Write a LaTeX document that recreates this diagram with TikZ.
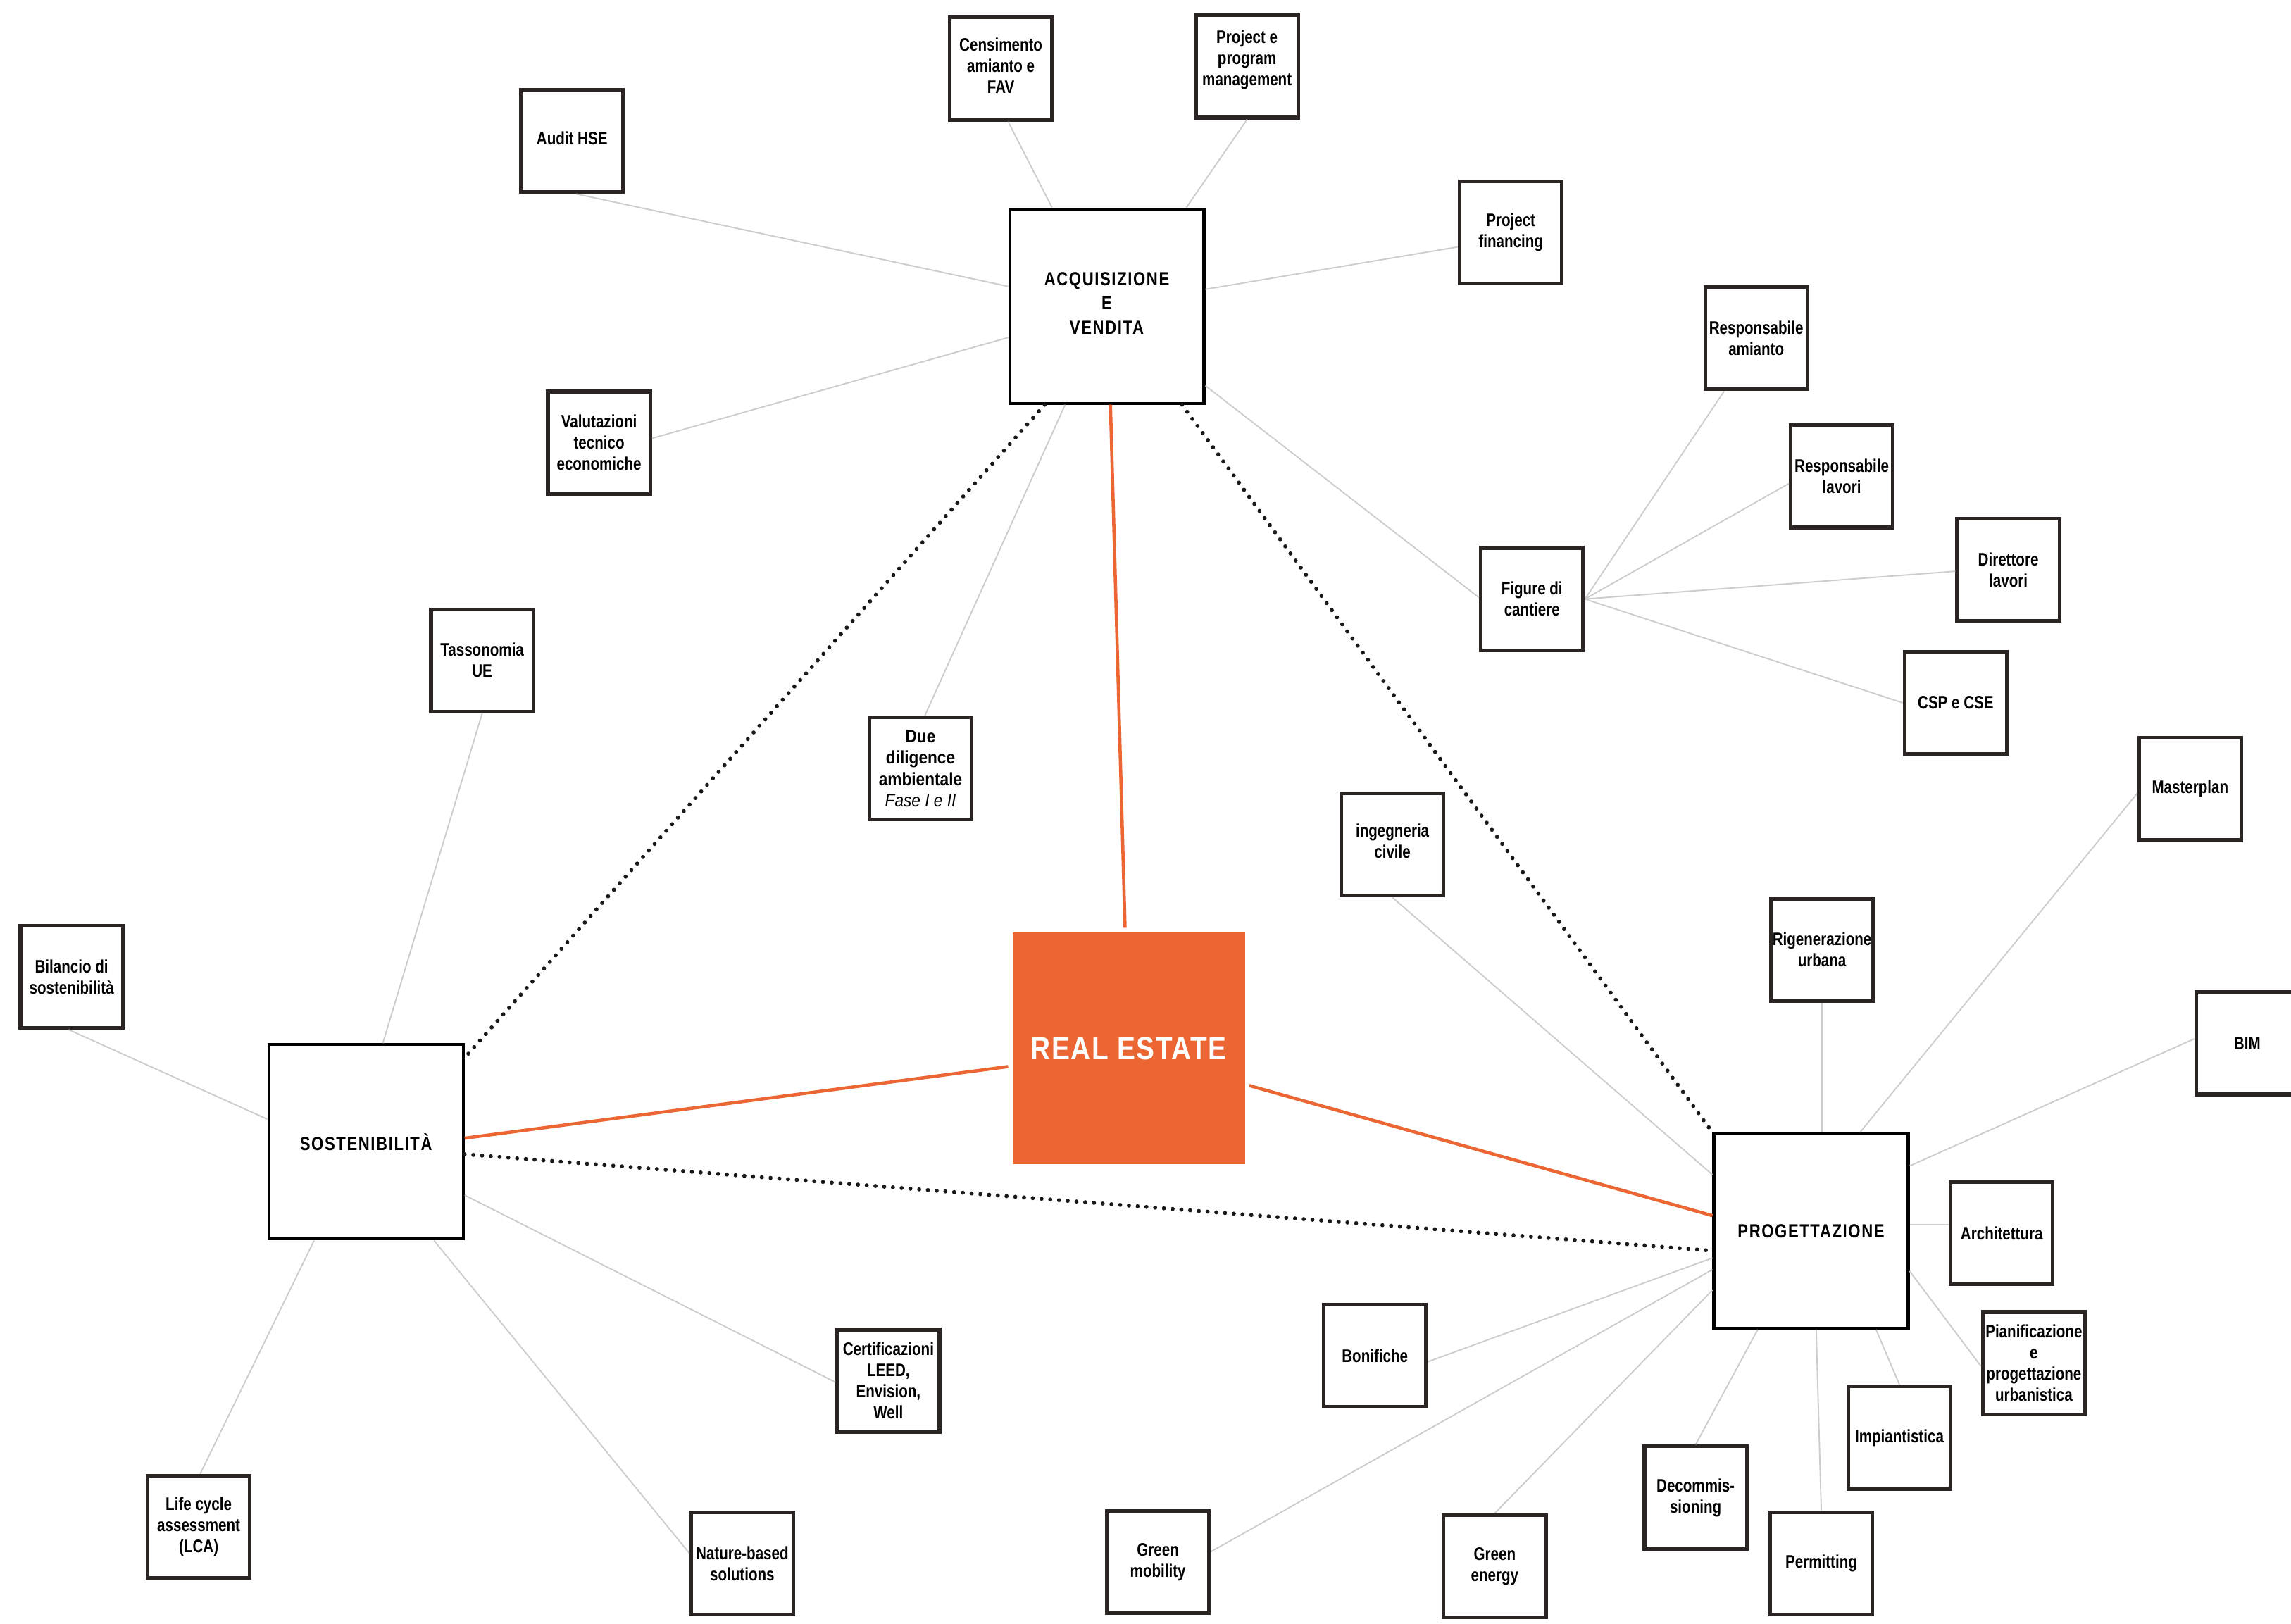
\documentclass[tikz,border=0pt]{standalone}
\usepackage{fontspec}
\newfontfamily\boxfont[FakeStretch=0.8]{Liberation Sans}
\newfontfamily\widefont[FakeStretch=0.88]{Liberation Sans}
\newfontfamily\mainfont[FakeStretch=0.82,LetterSpace=6]{Liberation Sans}
\newfontfamily\refont[FakeStretch=0.85,LetterSpace=3.5]{Liberation Sans}
\definecolor{reorange}{HTML}{EB6633}
\definecolor{boxline}{HTML}{2A2522}
\definecolor{linkgray}{HTML}{CCCCCC}
\tikzset{
  small/.style={draw=boxline, line width=2.5pt, fill=white, minimum width=70pt, minimum height=70pt, inner sep=0pt, align=center, font=\boxfont\bfseries\fontsize{12.4}{14.5}\selectfont},
  big/.style={draw=black, line width=2pt, fill=white, minimum width=133pt, minimum height=133pt, inner sep=0pt, align=center, font=\mainfont\bfseries\fontsize{13}{16.5}\selectfont},
  core/.style={fill=reorange, minimum width=159pt, minimum height=159pt, inner sep=0pt, outer sep=3pt, text=white, font=\refont\bfseries\fontsize{22}{26}\selectfont},
  link/.style={draw=linkgray, line width=0.9pt},
  olink/.style={draw=reorange, line width=2.2pt},
  dlink/.style={draw=black!90, line width=2.8pt, line cap=round, dash pattern=on 0pt off 6pt},
}
\begin{document}
\begin{tikzpicture}[x=1pt,y=-1pt]
\useasboundingbox[fill=white] (0,0) rectangle (1568,1111.5);
% main nodes
\node[big] (acq) at (757.5,209.5) {ACQUISIZIONE\\E\\VENDITA\\[-12.5pt]\mbox{}};
\node[big] (sost) at (250.5,781.5) {SOSTENIBILIT\`A};
\node[big] (prog) at (1239.5,842.5) {PROGETTAZIONE};
\node[core] (re) at (772.5,717.5) {REAL ESTATE};
% small nodes
\node[small] (audit) at (391.5,96.5) {Audit HSE\\[-10.5pt]\mbox{}};
\node[small] (cens) at (685,47) {Censimento\\amianto e\\FAV\\[-10.5pt]\mbox{}};
\node[small] (ppm) at (853.5,45.5) {Project e\\program\\management\\[-3pt]\mbox{}};
\node[small] (pfin) at (1034,159) {Project\\financing};
\node[small] (valut) at (410,303) {Valutazioni\\tecnico\\economiche};
\node[small] (ramianto) at (1202,231.5) {Responsabile\\amianto};
\node[small] (rlavori) at (1260.5,326) {Responsabile\\lavori};
\node[small] (figure) at (1048.5,410) {Figure di\\cantiere};
\node[small] (dlavori) at (1374.5,390) {Direttore\\lavori};
\node[small] (csp) at (1338.5,481) {CSP e CSE};
\node[small, font=\widefont\bfseries\fontsize{12.4}{14.5}\selectfont] (due) at (630,526) {Due\\diligence\\ambientale\\{\mdseries\itshape Fase I e II}};
\node[small] (tasso) at (330,452) {Tassonomia\\UE};
\node[small] (master) at (1499,540) {Masterplan};
\node[small] (ingciv) at (953,578) {ingegneria\\civile\\[-9.5pt]\mbox{}};
\node[small] (rigen) at (1247,650) {Rigenerazione\\urbana};
\node[small] (bilancio) at (49,668.5) {Bilancio di\\sostenibilit\`a};
\node[small] (bim) at (1538,714) {BIM};
\node[small] (arch) at (1370,844) {Architettura};
\node[small] (pianif) at (1392,933) {Pianificazione\\e\\progettazione\\urbanistica};
\node[small] (bonif) at (941,928) {Bonifiche};
\node[small] (certif) at (608,945) {Certificazioni\\LEED,\\Envision,\\Well};
\node[small] (impian) at (1300,984) {Impiantistica};
\node[small] (lca) at (136,1045) {Life cycle\\assessment\\(LCA)};
\node[small] (nature) at (508,1070) {Nature-based\\solutions};
\node[small] (gmob) at (792.5,1069) {Green\\mobility};
\node[small] (gene) at (1023,1072) {Green\\energy};
\node[small] (decom) at (1160.5,1025) {Decommis-\\sioning};
\node[small] (permit) at (1246.5,1070) {Permitting};
% gray links: acquisizione
\draw[link] ([xshift=3]audit.south) -- ([yshift=13.5]acq.west);
\draw[link] ([xshift=5]cens.south) -- ([xshift=-37.5]acq.north);
\draw[link] (ppm.south) -- ([xshift=54.5]acq.north);
\draw[link] ([yshift=11.5]acq.east) -- ([yshift=-10]pfin.west);
\draw[link] ([yshift=3]valut.east) -- ([yshift=-21.5]acq.west);
\draw[link] ([yshift=-54.5]acq.east) -- ([yshift=1]figure.west);
\draw[link] ([xshift=3]due.north) -- ([xshift=-28.5]acq.south);
% figure di cantiere
\draw[link] (figure.east) -- ([xshift=-22]ramianto.south);
\draw[link] (figure.east) -- ([yshift=-5]rlavori.west);
\draw[link] (figure.east) -- ([yshift=-1]dlavori.west);
\draw[link] (figure.east) -- (csp.west);
% sostenibilita
\draw[link] (tasso.south) -- ([xshift=11.5]sost.north);
\draw[link] ([xshift=-2]bilancio.south) -- ([yshift=15.5]sost.west);
\draw[link] ([yshift=-36.5]sost.east) -- ([yshift=-1]certif.west);
\draw[link] ([xshift=1]lca.north) -- ([xshift=-35.5]sost.south);
\draw[link] ([xshift=46.5]sost.south) -- ([yshift=7]nature.west);
% progettazione
\draw[link] (ingciv.south) -- ([yshift=38.5]prog.west);
\draw[link] (rigen.south) -- ([xshift=7.5]prog.north);
\draw[link] ([yshift=-3]master.west) -- ([xshift=33.5]prog.north);
\draw[link] ([yshift=3]bim.west) -- ([yshift=44.5]prog.east);
\draw[link] ([yshift=6]arch.west) -- ([yshift=4.5]prog.east);
\draw[link] ([yshift=-2]pianif.west) -- ([yshift=-27.5]prog.east);
\draw[link] ([yshift=-4]bonif.east) -- ([yshift=-18.5]prog.west);
\draw[link] ([yshift=7]gmob.east) -- ([yshift=-26.5]prog.west);
\draw[link] (gene.north) -- ([yshift=-40.5]prog.west);
\draw[link] (decom.north) -- ([xshift=-36.5]prog.south);
\draw[link] (permit.north) -- ([xshift=3.5]prog.south);
\draw[link] (impian.north) -- ([xshift=44.5]prog.south);
% orange links
\draw[olink] ([xshift=2.5]acq.south) -- ([xshift=-2.5]re.north);
\draw[olink] ([yshift=-12.5]re.west) -- ([yshift=2.5]sost.east);
\draw[olink] ([yshift=-25.5]re.east) -- ([yshift=10.5]prog.west);
% dotted links
\draw[dlink] ([xshift=-42.5]acq.south) -- ([yshift=-10]sost.north east);
\draw[dlink] ([xshift=51.5]acq.south) -- (prog.north west);
\draw[dlink] ([yshift=-8.5]sost.east) -- ([yshift=-13.5]prog.west);
\end{tikzpicture}
\end{document}
